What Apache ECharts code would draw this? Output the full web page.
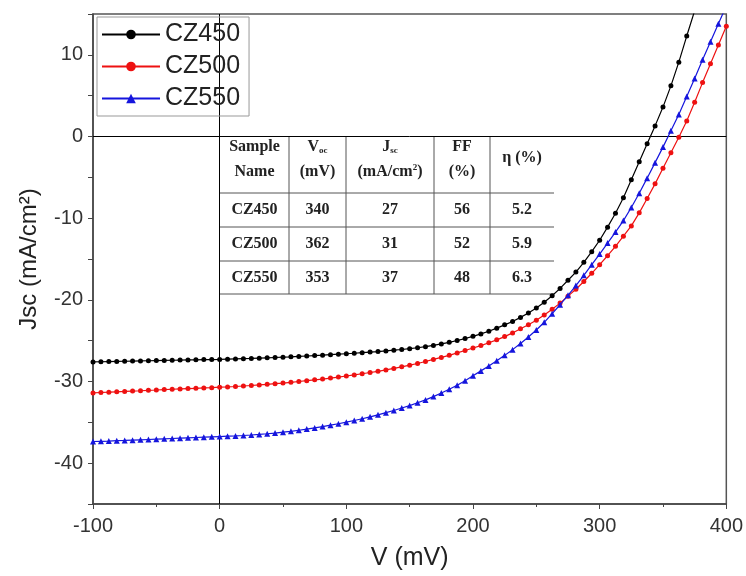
<!DOCTYPE html>
<html>
<head>
<meta charset="utf-8">
<script src="https://cdn.jsdelivr.net/npm/echarts@6/dist/echarts.min.js"></script>
<style>html,body{margin:0;padding:0;background:#fff;}#c{width:746px;height:576px;}</style>
</head>
<body>
<div id="c"></div>
<script>
// ---- data ----
const voltage = [-100,-93.75,-87.5,-81.25,-75,-68.75,-62.5,-56.25,-50,-43.75,-37.5,-31.25,-25,-18.75,-12.5,-6.25,0,6.25,12.5,18.75,25,31.25,37.5,43.75,50,56.25,62.5,68.75,75,81.25,87.5,93.75,100,106.25,112.5,118.75,125,131.25,137.5,143.75,150,156.25,162.5,168.75,175,181.25,187.5,193.75,200,206.25,212.5,218.75,225,231.25,237.5,243.75,250,256.25,262.5,268.75,275,281.25,287.5,293.75,300,306.25,312.5,318.75,325,331.25,337.5,343.75,350,356.25,362.5,368.75,375,381.25,387.5,393.75,400];

const seriesNames = ['CZ450', 'CZ500', 'CZ550'];

const jCZ450 = [-27.6,-27.58,-27.56,-27.54,-27.52,-27.5,-27.48,-27.46,-27.44,-27.42,-27.4,-27.38,-27.36,-27.34,-27.32,-27.31,
-27.3,-27.27,-27.24,-27.21,-27.18,-27.14,-27.1,-27.06,-27.02,-26.98,-26.93,-26.88,-26.83,-26.78,-26.72,-26.66,
-26.6,-26.54,-26.47,-26.4,-26.33,-26.25,-26.17,-26.08,-25.98,-25.87,-25.74,-25.58,-25.4,-25.2,-24.98,-24.74,
-24.47,-24.17,-23.84,-23.47,-23.06,-22.65,-22.15,-21.6,-21.0,-20.3,-19.5,-18.6,-17.6,-16.6,-15.4,-14.1,
-12.7,-11.1,-9.4,-7.5,-5.3,-3.1,-0.9,1.3,3.6,6.2,9.1,12.3,15.4,18.6,null,null,null];

const jCZ500 = [-31.4,-31.35,-31.31,-31.26,-31.22,-31.17,-31.13,-31.08,-31.04,-30.99,-30.95,-30.91,-30.87,-30.83,-30.79,-30.75,
-30.7,-30.66,-30.61,-30.55,-30.49,-30.42,-30.35,-30.27,-30.19,-30.1,-30.0,-29.9,-29.8,-29.7,-29.58,-29.46,
-29.33,-29.2,-29.05,-28.9,-28.75,-28.58,-28.4,-28.2,-28.0,-27.8,-27.55,-27.3,-27.05,-26.8,-26.5,-26.2,
-25.9,-25.6,-25.25,-24.9,-24.5,-24.05,-23.55,-23.05,-22.5,-21.85,-21.15,-20.4,-19.55,-18.7,-17.75,-16.75,
-15.7,-14.6,-13.45,-12.2,-10.95,-9.35,-7.6,-5.8,-3.9,-2.0,-0.1,1.9,4.2,6.6,8.9,11.2,13.5];

const jCZ550 = [-37.35,-37.32,-37.29,-37.25,-37.22,-37.18,-37.14,-37.1,-37.06,-37.02,-36.98,-36.94,-36.9,-36.86,-36.82,-36.78,
-36.74,-36.7,-36.66,-36.61,-36.55,-36.48,-36.4,-36.31,-36.21,-36.1,-35.97,-35.83,-35.68,-35.52,-35.35,-35.17,
-34.98,-34.78,-34.56,-34.33,-34.08,-33.82,-33.55,-33.25,-32.95,-32.6,-32.25,-31.85,-31.4,-30.95,-30.45,-29.9,
-29.3,-28.7,-28.1,-27.45,-26.8,-26.1,-25.35,-24.55,-23.7,-22.75,-21.7,-20.6,-19.45,-18.25,-17.0,-15.7,
-14.4,-13.05,-11.7,-10.3,-8.7,-6.95,-5.1,-3.2,-1.3,0.7,2.7,4.9,7.1,9.4,11.6,13.8,16.0];

const xTicks = [-100, 0, 100, 200, 300, 400];
const yTicks = [-40, -30, -20, -10, 0, 10];

const tableHeader = [['Sample', 'Name'], ['V{sub|oc}', '(mV)'], ['J{sub|sc}', '(mA/cm{sup|2})'], ['FF', '(%)'], ['η (%)']];
const tableRows = [
  ['CZ450', '340', '27', '56', '5.2'],
  ['CZ500', '362', '31', '52', '5.9'],
  ['CZ550', '353', '37', '48', '6.3']
];

// ---- build ----
function pairs(vals) {
  const out = [];
  vals.forEach((v, i) => { if (v !== null) out.push([voltage[i], v]); });
  return out;
}

const colors = ['#000000', '#ee1111', '#1515dd'];
const symbols = ['circle', 'circle', 'triangle'];
const sizes = [5, 5, 6];
const allData = [jCZ450, jCZ500, jCZ550];

const series = seriesNames.map((n, k) => ({
  name: n,
  type: 'line',
  data: pairs(allData[k]),
  symbol: symbols[k],
  symbolSize: sizes[k],
  showSymbol: true,
  clip: true,
  color: colors[k],
  lineStyle: { width: 1.2, color: colors[k] },
  itemStyle: { color: colors[k] },
  z: 3 + k
}));
series[0].markLine = {
  silent: true,
  symbol: 'none',
  label: { show: false },
  lineStyle: { color: '#000', width: 1, type: 'solid' },
  data: [{ xAxis: 0 }, { yAxis: 0 }],
  z: 1
};

// table graphic
const colX = [220, 289, 346, 434, 490, 554];
const rowY = [137, 193, 227, 261, 294];
const tFont = 'bold 16px "Liberation Serif", "Times New Roman", serif';
const tColor = '#222';
const richStyle = {
  sub: { fontSize: 9, fontWeight: 'bold', fontFamily: 'Liberation Serif', fill: tColor, padding: [8, 0, 0, 0] },
  sup: { fontSize: 9, fontWeight: 'bold', fontFamily: 'Liberation Serif', fill: tColor, padding: [0, 0, 8, 0] }
};
const g = [];
for (let i = 1; i < rowY.length; i++) {
  g.push({ type: 'line', shape: { x1: colX[0], y1: rowY[i], x2: colX[colX.length - 1], y2: rowY[i] }, style: { stroke: '#555', lineWidth: 1 } });
}
for (let j = 1; j < colX.length - 1; j++) {
  g.push({ type: 'line', shape: { x1: colX[j], y1: rowY[0], x2: colX[j], y2: rowY[rowY.length - 1] }, style: { stroke: '#555', lineWidth: 1 } });
}
tableHeader.forEach((lines, j) => {
  const cx = (colX[j] + colX[j + 1]) / 2;
  if (lines.length === 1) {
    g.push({ type: 'text', x: cx, y: 158, style: { text: lines[0], font: tFont, fill: tColor, align: 'center', verticalAlign: 'middle', rich: richStyle } });
  } else {
    lines.forEach((t, li) => {
      g.push({ type: 'text', x: cx, y: 147 + li * 25, style: { text: t, font: tFont, fill: tColor, align: 'center', verticalAlign: 'middle', rich: richStyle } });
    });
  }
});
tableRows.forEach((row, r) => {
  const cy = (rowY[r + 1] + rowY[r + 2]) / 2;
  row.forEach((t, j) => {
    const cx = (colX[j] + colX[j + 1]) / 2;
    g.push({ type: 'text', x: cx, y: cy, style: { text: t, font: tFont, fill: tColor, align: 'center', verticalAlign: 'middle' } });
  });
});

const chart = echarts.init(document.getElementById('c'), null, { renderer: 'canvas' });
chart.setOption({
  animation: false,
  backgroundColor: '#fff',
  textStyle: { fontFamily: '"Liberation Sans", Arial, sans-serif' },
  grid: { left: 93, right: 19, top: 14, bottom: 68, show: true, borderColor: '#555', borderWidth: 1.5, backgroundColor: 'transparent' },
  legend: {
    orient: 'vertical',
    left: 97, top: 17,
    data: seriesNames,
    itemWidth: 58, itemHeight: 12,
    itemGap: 7,
    padding: [5, 9, 5, 4],
    borderColor: '#999', borderWidth: 1,
    textStyle: { fontSize: 25, color: '#222', fontFamily: '"Liberation Sans", Arial, sans-serif' }
  },
  xAxis: {
    type: 'value', min: xTicks[0], max: xTicks[xTicks.length - 1], interval: 100,
    name: 'V (mV)', nameLocation: 'middle', nameGap: 42,
    nameTextStyle: { fontSize: 25, color: '#222' },
    axisLine: { show: true, onZero: false, lineStyle: { color: '#444', width: 1.5 } },
    axisTick: { show: true, inside: false, length: 5, lineStyle: { color: '#444' } },
    minorTick: { show: true, splitNumber: 2, length: 3, lineStyle: { color: '#444' } },
    splitLine: { show: false },
    axisLabel: { fontSize: 20, color: '#333', margin: 12 }
  },
  yAxis: {
    type: 'value', min: -45, max: 15, interval: 5,
    name: 'Jsc (mA/cm²)', nameLocation: 'middle', nameGap: 52, nameRotate: 90,
    nameTextStyle: { fontSize: 24, color: '#222' },
    axisLine: { show: true, onZero: false, lineStyle: { color: '#444', width: 1.5 } },
    axisTick: { show: true, inside: false, length: 5, lineStyle: { color: '#444' } },
    splitLine: { show: false },
    axisLabel: { fontSize: 20, color: '#333', margin: 10, formatter: v => (yTicks.indexOf(v) >= 0 ? String(v) : '') }
  },
  series: series,
  graphic: g
});
</script>
</body>
</html>
